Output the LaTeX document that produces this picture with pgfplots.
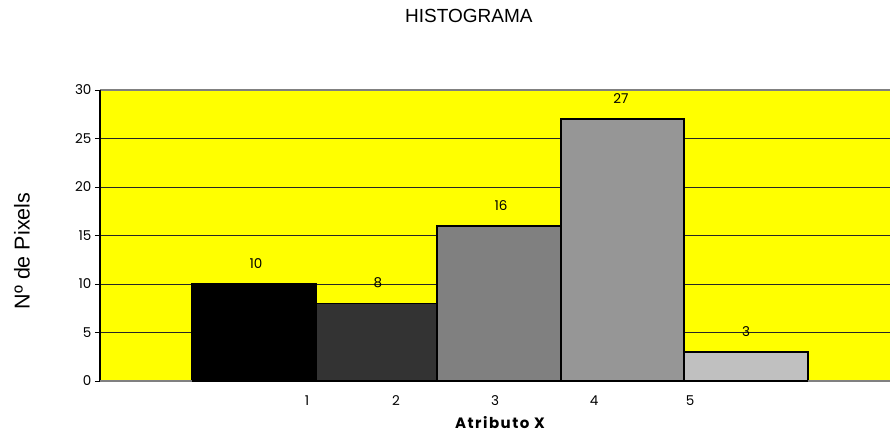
\documentclass[border=0pt]{standalone}
\usepackage{pgfplots}
\pgfplotsset{compat=1.18}
\usepackage{fontspec}
\setmainfont{Liberation Sans}
\newfontfamily\gothic{Poppins}
\newfontfamily\gothicsp[LetterSpace=10]{Poppins}
\definecolor{plotyellow}{RGB}{255,255,0}
\definecolor{barA}{RGB}{0,0,0}
\definecolor{barB}{RGB}{51,51,51}
\definecolor{barC}{RGB}{128,128,128}
\definecolor{barD}{RGB}{150,150,150}
\definecolor{barE}{RGB}{192,192,192}
\begin{document}
\begin{tikzpicture}[x=1pt,y=1pt]
\path[use as bounding box] (-100pt,-53pt) rectangle (790pt,381pt);
\begin{axis}[
  at={(0,0)}, anchor=south west,
  scale only axis, width=790pt, height=291pt,
  xmin=100, xmax=890, ymin=0, ymax=30,
  axis background/.style={fill=plotyellow},
  axis line style={draw=none},
  ytick={0,5,...,30},
  ymajorgrids, grid style={black!85, line width=1pt},
  xtick={307,396,495,594,690}, xticklabels={1,2,3,4,5},
  xtick style={draw=none},
  ytick style={black, line width=0.8pt},
  tick align=outside, major tick length=5pt,
  tick label style={font=\gothic\fontsize{13.5}{15}\selectfont},
  xticklabel style={yshift=-6pt},
  /pgf/number format/assume math mode=true,
  title={HISTOGRAMA},
  title style={at={(axis description cs:0.467,1.2337)}, anchor=center, font=\fontsize{19}{22}\selectfont},
  xlabel={\bfseries Atributo X},
  xlabel style={at={(axis description cs:0.5063,-0.1425)}, anchor=center, font=\gothicsp\fontsize{15}{17}\selectfont},
  ylabel={Nº de Pixels},
  ylabel style={at={(axis description cs:-0.0987,0.4467)}, anchor=center, font=\fontsize{21.5}{24}\selectfont},
  clip=false,
]
\addplot[ybar interval, fill=barA, draw=black, line width=1.5pt] coordinates {(192,10) (316,10)};
\addplot[ybar interval, fill=barB, draw=black, line width=1.5pt] coordinates {(316,8) (437,8)};
\addplot[ybar interval, fill=barC, draw=black, line width=1.5pt] coordinates {(437,16) (561,16)};
\addplot[ybar interval, fill=barD, draw=black, line width=1.5pt] coordinates {(561,27) (684,27)};
\addplot[ybar interval, fill=barE, draw=black, line width=1.5pt] coordinates {(684,3) (808,3)};
\draw[gray, line width=1.2pt] (axis cs:100,30) -- (axis cs:890,30);
\draw[black, line width=1.2pt] (axis cs:100,0) -- (axis cs:100,30);
\draw[gray, line width=1.2pt] (axis cs:808,0) -- (axis cs:890,0);
\draw[gray, line width=1.2pt] (axis cs:100,0) -- (axis cs:192,0);
\begin{scope}[every node/.style={font=\gothic\fontsize{13.5}{15}\selectfont, anchor=center, yshift=20.5pt}]
\node at (axis cs:256,10) {10};
\node at (axis cs:378,8) {8};
\node at (axis cs:501,16) {16};
\node at (axis cs:621,27) {27};
\node at (axis cs:746,3) {3};
\end{scope}
\end{axis}
\end{tikzpicture}
\end{document}
